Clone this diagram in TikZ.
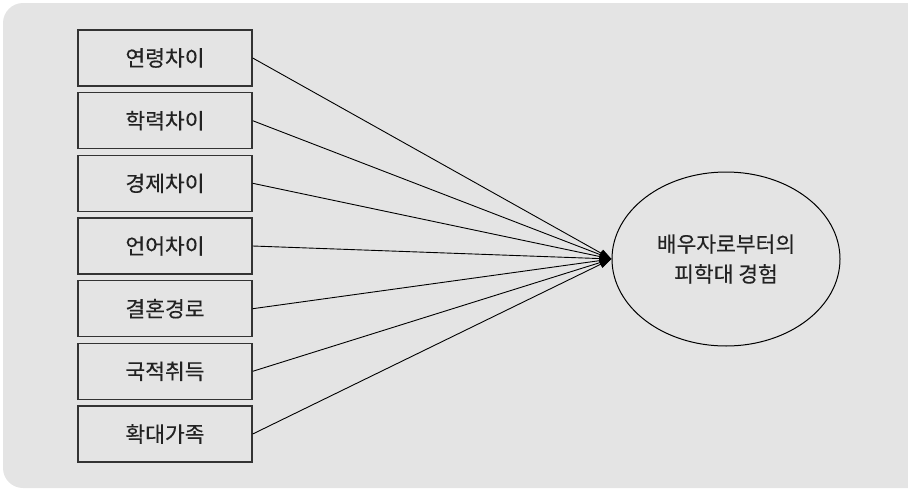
\documentclass[tikz,border=0pt]{standalone}
\usepackage{fontspec}
\setmainfont[FakeBold=0.25]{Noto Sans CJK KR}
\usetikzlibrary{shapes.geometric,arrows.meta}
\definecolor{panel}{HTML}{E4E4E4}
\definecolor{ink}{HTML}{222222}
\definecolor{frame}{HTML}{333333}
\tikzset{
  factor/.style={draw=frame, line width=1.4pt, minimum width=174pt, minimum height=56pt,
    inner sep=0pt, text=ink, font=\fontsize{21.5pt}{26pt}\selectfont},
  outcome/.style={ellipse, draw=black, line width=1pt, minimum width=228pt, minimum height=174pt,
    inner sep=0pt, align=center, text=ink, font=\fontsize{21.5pt}{30pt}\selectfont},
  path link/.style={draw=black, line width=0.9pt, -{Triangle[length=12pt,width=8pt]}}
}
\begin{document}
\begin{tikzpicture}[x=1pt,y=-1pt]
  \useasboundingbox (0,0) rectangle (908,490);
  % panel behind the diagram
  \fill[panel, rounded corners=20pt] (3,3) rectangle (930,488);

  % explanatory factors
  \node[factor] (f1) at (165,58)    {연령차이};
  \node[factor] (f2) at (165,120.7) {학력차이};
  \node[factor] (f3) at (165,183.3) {경제차이};
  \node[factor] (f4) at (165,246)   {언어차이};
  \node[factor] (f5) at (165,308.7) {결혼경로};
  \node[factor] (f6) at (165,371.3) {국적취득};
  \node[factor] (f7) at (165,434)   {확대가족};

  % outcome
  \node[outcome] (y) at (726,259) {배우자로부터의\\피학대 경험};

  % paths
  \foreach \i in {1,...,7} {
    \path[path link] (f\i.east) -- (y.west);
  }
\end{tikzpicture}
\end{document}
